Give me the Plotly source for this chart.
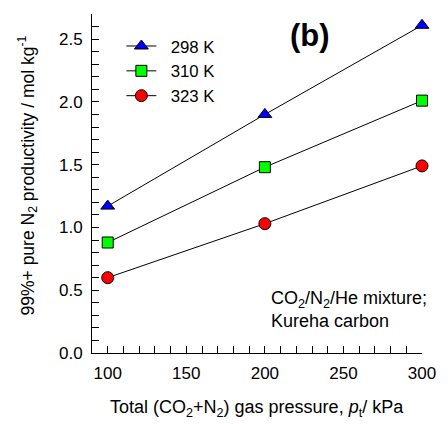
import plotly.graph_objects as go

pressure = [100, 200, 300]
prod_298 = [1.17, 1.90, 2.61]
prod_310 = [0.88, 1.48, 2.01]
prod_323 = [0.60, 1.03, 1.49]

series = [
    ("298 K", prod_298, "triangle-up", "#0000ff", 12),
    ("310 K", prod_310, "square", "#00ff00", 11),
    ("323 K", prod_323, "circle", "#ff0000", 12),
]

FONT = "Liberation Sans, Arial, Helvetica, sans-serif"
NB = "\u00a0\u00a0"

fig = go.Figure()
for name, vals, sym, col, sz in series:
    fig.add_trace(go.Scatter(
        x=pressure, y=vals, name=NB + name, mode="lines+markers",
        line=dict(color="black", width=1),
        marker=dict(symbol=sym, color=col, size=sz, line=dict(color="black", width=1)),
        cliponaxis=False,
    ))

fig.update_layout(
    width=448, height=424,
    margin=dict(l=92, r=16, t=14, b=71),
    paper_bgcolor="white", plot_bgcolor="white",
    font=dict(family=FONT, size=17, color="black"),
    showlegend=True,
    legend=dict(x=0.089, y=0.957, xanchor="left", yanchor="top",
                bgcolor="rgba(0,0,0,0)", font=dict(size=16.8),
                tracegroupgap=0, itemwidth=30),
    xaxis=dict(range=[90, 300], dtick=50, tick0=0, showline=True, linecolor="black",
               linewidth=1, ticks="inside", ticklen=7, tickcolor="black",
               showgrid=False, zeroline=False, ticklabelstandoff=5,
               minor=dict(dtick=10, ticks="inside", ticklen=7, tickcolor="black", showgrid=False)),
    yaxis=dict(range=[0, 2.7], dtick=0.5, tick0=0, tickformat=".1f", showline=True,
               linecolor="black", linewidth=1, ticks="inside", ticklen=7, tickcolor="black",
               showgrid=False, zeroline=False, ticklabelstandoff=5,
               minor=dict(dtick=0.1, ticks="inside", ticklen=7, tickcolor="black", showgrid=False)),
)

fig.add_annotation(x=0.5, y=-0.165, xref="paper", yref="paper",
                   text="Total (CO<sub>2</sub>+N<sub>2</sub>) gas pressure, <i>p</i><sub>t</sub>/ kPa",
                   showarrow=False, xanchor="center", yanchor="middle", font=dict(size=18))
fig.add_annotation(x=-0.194, y=0.5236, xref="paper", yref="paper", textangle=-90,
                   text="99%+ pure N<sub>2</sub> productivity / mol kg<sup>-1</sup>",
                   showarrow=False, xanchor="center", yanchor="middle", font=dict(size=17.5))
fig.add_annotation(x=0.662, y=0.938, xref="paper", yref="paper", text="<b>(b)</b>",
                   showarrow=False, font=dict(size=31), xanchor="center", yanchor="middle")
fig.add_annotation(x=0.535, y=0.128, xref="paper", yref="paper",
                   text="CO<sub>2</sub>/N<sub>2</sub>/He mixture;<br>Kureha carbon",
                   showarrow=False, align="left", xanchor="left", yanchor="middle",
                   font=dict(size=18))

fig.write_html("out.html")
